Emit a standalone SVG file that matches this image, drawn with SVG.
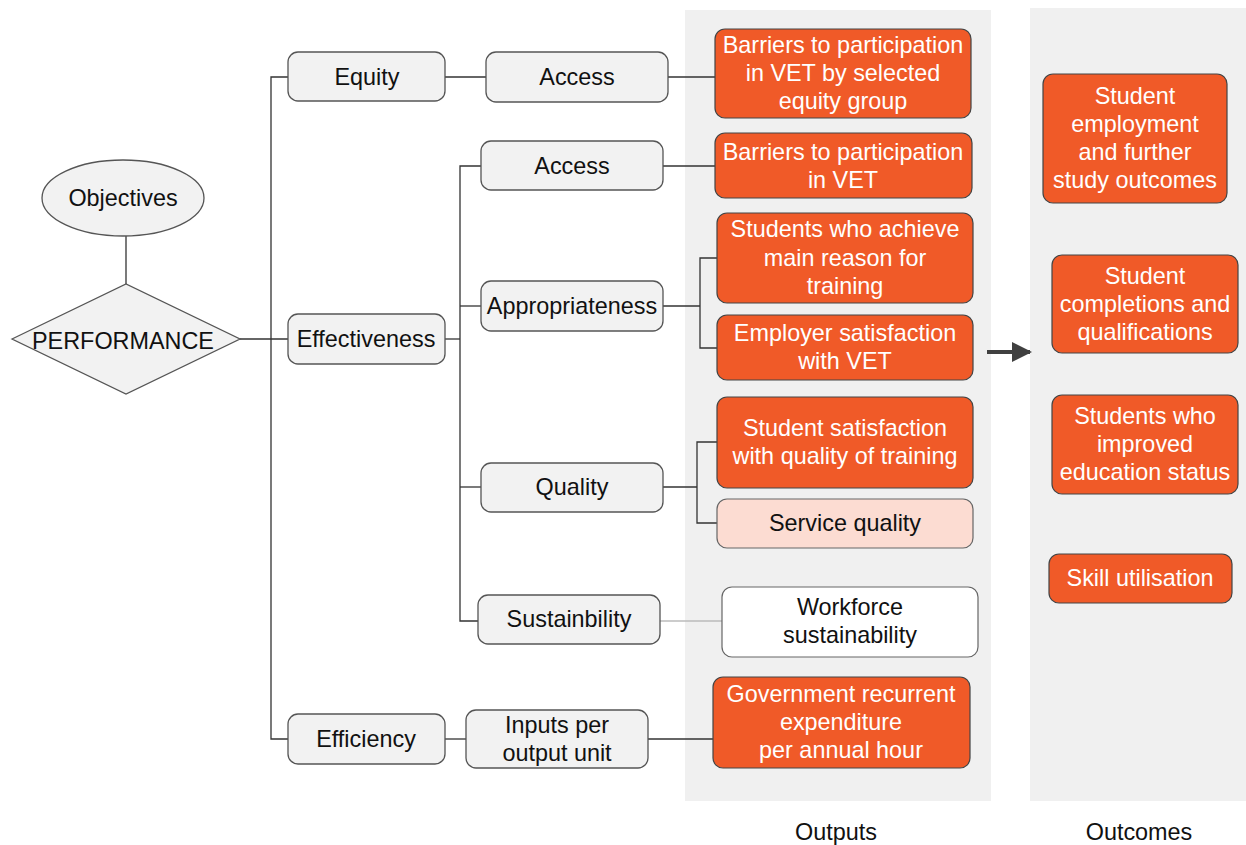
<svg xmlns="http://www.w3.org/2000/svg" width="1246" height="845" viewBox="0 0 1246 845">
<defs>
<style>
text{font-family:"Liberation Sans",Arial,sans-serif;font-size:23.4px;text-anchor:middle;fill:#111}
.g{fill:#f2f2f2;stroke:#555;stroke-width:1.3}
.o{fill:#f05a28;stroke:#444;stroke-width:1.2}
.w{fill:#fff}
.ln{fill:none;stroke:#333;stroke-width:1.3}
.panel{fill:#f0f0f0}
</style>
<marker id="ah" viewBox="0 0 10 10" refX="9" refY="5" markerWidth="5" markerHeight="5" orient="auto"><path d="M0,0 L10,5 L0,10 z" fill="#404040"/></marker>
</defs>
<rect width="1246" height="845" fill="#fff"/>
<rect class="panel" x="685" y="10" width="306" height="791"/>
<rect class="panel" x="1030" y="8" width="216" height="793"/>

<g id="connectors">
<path class="ln" d="M126,236 V284"/>
<path class="ln" d="M240,339 H288"/>
<path class="ln" d="M288,77 H271 V739 H288"/>
<path class="ln" d="M445,77 H486"/>
<path class="ln" d="M668,77 H715"/>
<path class="ln" d="M445,339 H460"/>
<path class="ln" d="M481,166 H460 V621 H478"/>
<path class="ln" d="M460,306 H481"/>
<path class="ln" d="M460,487 H481"/>
<path class="ln" d="M663,166 H715"/>
<path class="ln" d="M663,306 H700"/>
<path class="ln" d="M717,258 H700 V348 H717"/>
<path class="ln" d="M663,487 H697"/>
<path class="ln" d="M717,442 H697 V523 H717"/>
<path fill="none" stroke="#bbb" stroke-width="1.5" d="M660,621 H722"/>
<path class="ln" d="M445,739 H466"/>
<path class="ln" d="M648,739 H713"/>
<path fill="none" stroke="#404040" stroke-width="4" d="M987,352 H1030" marker-end="url(#ah)"/>
</g>

<g id="objectives"><ellipse cx="123" cy="198" rx="81" ry="38" fill="#f2f2f2" stroke="#555" stroke-width="1.3"/><text x="123" y="206">Objectives</text></g>
<g id="performance"><polygon points="12,339 126,284 240,339 126,394" fill="#f2f2f2" stroke="#555" stroke-width="1.3"/><text x="123" y="349">PERFORMANCE</text></g>

<g id="equity"><rect class="g" x="288" y="52" width="157" height="49" rx="10"/><text x="367" y="85">Equity</text></g>
<g id="effectiveness"><rect class="g" x="288" y="314" width="157" height="50" rx="10"/><text x="366" y="347">Effectiveness</text></g>
<g id="efficiency"><rect class="g" x="288" y="714" width="157" height="50" rx="10"/><text x="366" y="747">Efficiency</text></g>

<g id="access-equity"><rect class="g" x="486" y="52" width="182" height="50" rx="10"/><text x="577" y="85">Access</text></g>
<g id="access"><rect class="g" x="481" y="141" width="182" height="49" rx="10"/><text x="572" y="174">Access</text></g>
<g id="appropriateness"><rect class="g" x="481" y="281" width="182" height="50" rx="10"/><text x="572" y="314">Appropriateness</text></g>
<g id="quality"><rect class="g" x="481" y="463" width="182" height="49" rx="10"/><text x="572" y="495">Quality</text></g>
<g id="sustainability"><rect class="g" x="478" y="595" width="182" height="49" rx="10" stroke="#888"/><text x="569" y="627">Sustainbility</text></g>
<g id="inputs"><rect class="g" x="466" y="710" width="182" height="58" rx="10"/><text x="557" y="733">Inputs per</text><text x="557" y="761">output unit</text></g>

<g id="barriers-equity"><rect class="o" x="715" y="29" width="256" height="89" rx="10"/><text class="w" x="843" y="53">Barriers to participation</text><text class="w" x="843" y="81">in VET by selected</text><text class="w" x="843" y="109">equity group</text></g>
<g id="barriers"><rect class="o" x="715" y="133" width="257" height="65" rx="10"/><text class="w" x="843" y="160">Barriers to participation</text><text class="w" x="843" y="188">in VET</text></g>
<g id="students-achieve"><rect class="o" x="717" y="213" width="256" height="90" rx="10"/><text class="w" x="845" y="237">Students who achieve</text><text class="w" x="845" y="266">main reason for</text><text class="w" x="845" y="294">training</text></g>
<g id="employer"><rect class="o" x="717" y="315" width="256" height="65" rx="10"/><text class="w" x="845" y="341">Employer satisfaction</text><text class="w" x="845" y="369">with VET</text></g>
<g id="student-satisfaction"><rect class="o" x="717" y="397" width="256" height="91" rx="10"/><text class="w" x="845" y="436">Student satisfaction</text><text class="w" x="845" y="464">with quality of training</text></g>
<g id="service-quality"><rect x="717" y="499" width="256" height="49" rx="10" fill="#fcdcd2" stroke="#666" stroke-width="1.2"/><text x="845" y="531">Service quality</text></g>
<g id="workforce"><rect x="722" y="587" width="256" height="70" rx="10" fill="#fff" stroke="#666" stroke-width="1.2"/><text x="850" y="615">Workforce</text><text x="850" y="643">sustainability</text></g>
<g id="government"><rect class="o" x="713" y="677" width="257" height="91" rx="10"/><text class="w" x="841" y="702">Government recurrent</text><text class="w" x="841" y="730">expenditure</text><text class="w" x="841" y="758">per annual hour</text></g>

<g id="employment"><rect class="o" x="1043" y="74" width="184" height="129" rx="10"/><text class="w" x="1135" y="104">Student</text><text class="w" x="1135" y="132">employment</text><text class="w" x="1135" y="160">and further</text><text class="w" x="1135" y="188">study outcomes</text></g>
<g id="completions"><rect class="o" x="1052" y="255" width="186" height="98" rx="10"/><text class="w" x="1145" y="284">Student</text><text class="w" x="1145" y="312">completions and</text><text class="w" x="1145" y="340">qualifications</text></g>
<g id="improved"><rect class="o" x="1052" y="395" width="186" height="99" rx="10"/><text class="w" x="1145" y="424">Students who</text><text class="w" x="1145" y="452">improved</text><text class="w" x="1145" y="480">education status</text></g>
<g id="skill"><rect class="o" x="1049" y="554" width="183" height="49" rx="10"/><text class="w" x="1140" y="586">Skill utilisation</text></g>

<g id="labels"><text x="836" y="840">Outputs</text><text x="1139" y="840">Outcomes</text></g>
</svg>
